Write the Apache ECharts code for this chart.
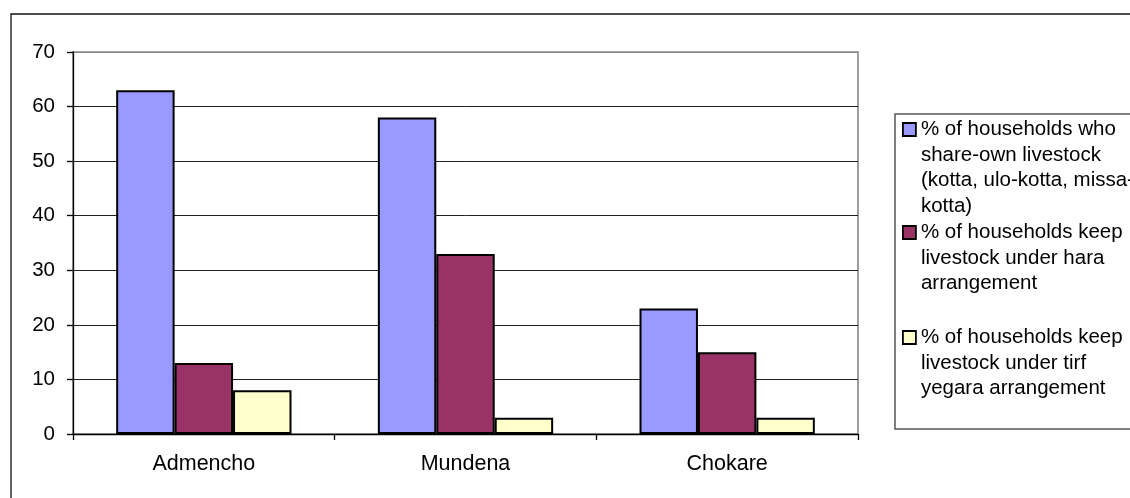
<!DOCTYPE html>
<html>
<head>
<meta charset="utf-8">
<script src="https://cdn.jsdelivr.net/npm/echarts@6/dist/echarts.min.js"></script>
<style>
  html, body { margin: 0; padding: 0; background: #fff; }
  #chart { width: 1130px; height: 498px; }
</style>
</head>
<body>
<div id="chart"></div>
<script>
// Villages
var categories = ['Admencho', 'Mundena', 'Chokare'];

// Share of households by livestock arrangement (%)
var shareOwn = [63, 58, 23];
var haraArrangement = [13, 33, 15];
var tirfYegara = [8, 3, 3];

var seriesNames = [
  '% of households who share-own livestock (kotta, ulo-kotta, missa-kotta)',
  '% of households keep livestock under hara arrangement',
  '% of households keep livestock under tirf yegara arrangement'
];

// Wrapped legend text, one array of lines per series
var legendLines = [
  ['% of households who', 'share-own livestock', '(kotta, ulo-kotta, missa-', 'kotta)'],
  ['% of households keep', 'livestock under hara', 'arrangement'],
  ['% of households keep', 'livestock under tirf', 'yegara arrangement']
];

var yTicks = [0, 10, 20, 30, 40, 50, 60, 70];

var colors = ['#9999FF', '#993366', '#FFFFCC'];
var FONT = '"Liberation Sans", Arial, sans-serif';
var LH = 25.5;
var legendIconCenters = [129.5, 232.5, 337.5];

var chart = echarts.init(document.getElementById('chart'), null, { renderer: 'canvas' });

function makeLegend(i) {
  var n = legendLines[i].length;
  // leading empty lines keep the swatch level with the first text line
  var pad = new Array(n).join('\n');
  var text = pad + legendLines[i].join('\n');
  var blockH = (2 * n - 1) * LH;
  return {
    data: [seriesNames[i]],
    left: 902,
    top: legendIconCenters[i] - blockH / 2,
    padding: 0,
    orient: 'vertical',
    icon: 'rect',
    itemWidth: 13,
    itemHeight: 13,
    selectedMode: false,
    itemStyle: { borderColor: '#000', borderWidth: 1.8 },
    formatter: function () { return text; },
    textStyle: {
      fontFamily: FONT,
      fontSize: 20.5,
      color: '#000',
      lineHeight: LH
    }
  };
}

var seriesData = [shareOwn, haraArrangement, tirfYegara];

var option = {
  animation: false,
  backgroundColor: '#fff',
  graphic: [
    {
      type: 'rect',
      shape: { x: 11, y: 14, width: 1140, height: 520 },
      style: { fill: 'none', stroke: '#111', lineWidth: 1.3 },
      z: 0
    },
    {
      type: 'rect',
      shape: { x: 895, y: 114, width: 300, height: 315 },
      style: { fill: 'none', stroke: '#555', lineWidth: 1.5 },
      z: 0
    }
  ],
  grid: {
    left: 73,
    right: 272,
    top: 52,
    bottom: 64,
    show: true,
    borderColor: '#888',
    borderWidth: 1.6,
    backgroundColor: 'transparent'
  },
  legend: [makeLegend(0), makeLegend(1), makeLegend(2)],
  xAxis: {
    type: 'category',
    data: categories,
    axisLine: { show: true, lineStyle: { color: '#000', width: 1.3 } },
    axisTick: { show: true, length: 6, lineStyle: { color: '#000', width: 1.3 } },
    axisLabel: {
      color: '#000',
      fontFamily: FONT,
      fontSize: 21.5,
      margin: 19
    },
    splitLine: { show: false }
  },
  yAxis: {
    type: 'value',
    min: yTicks[0],
    max: yTicks[yTicks.length - 1],
    interval: yTicks[1] - yTicks[0],
    axisLine: { show: true, lineStyle: { color: '#000', width: 1.3 } },
    axisTick: { show: true, length: 6, lineStyle: { color: '#000', width: 1.3 } },
    axisLabel: {
      color: '#000',
      fontFamily: FONT,
      fontSize: 20.5,
      margin: 18
    },
    splitLine: {
      show: true,
      lineStyle: {
        color: ['#000', '#222', '#222', '#222', '#222', '#222', '#222', '#888'],
        width: 1
      }
    }
  },
  series: seriesData.map(function (d, i) {
    return {
      name: seriesNames[i],
      type: 'bar',
      data: d,
      barGap: '0%',
      barCategoryGap: '33%',
      itemStyle: {
        color: colors[i],
        borderColor: '#000',
        borderWidth: 2
      }
    };
  })
};

chart.setOption(option);
</script>
</body>
</html>
